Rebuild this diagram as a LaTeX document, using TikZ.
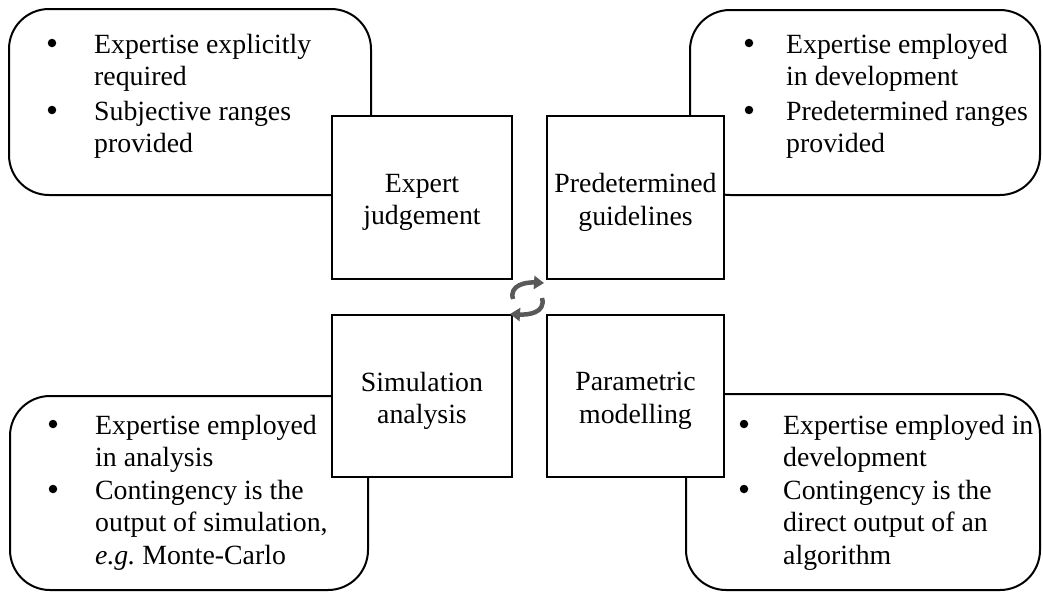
\documentclass[tikz,border=0pt]{standalone}
\usepackage{fontspec}
\setmainfont{Liberation Serif}
\usetikzlibrary{arrows.meta}
\newcommand\diagfont{\fontsize{27.8}{32.6}\selectfont}
\newcommand\itemlines[1]{\begin{tabular}[t]{@{}l@{}}#1\end{tabular}}
\definecolor{cyclegray}{HTML}{595959}
\tikzset{
  roundbox/.style={draw=black, line width=2pt, rounded corners=40pt, fill=white, inner sep=0pt},
  sqbox/.style={draw=black, line width=2pt, fill=white, inner sep=0pt},
  sqlabel/.style={font=\diagfont, align=center, inner sep=0pt, yshift=-5pt},
  itemtext/.style={anchor=base west, inner sep=0pt, font=\diagfont},
  bulletdot/.style={circle, fill=black, draw=none, minimum size=8.5pt, inner sep=0pt},
  cyclearrow/.style={draw=cyclegray, line width=4.5pt, -{Triangle[length=10pt,width=13pt]}}
}
\begin{document}
\begin{tikzpicture}[x=1pt, y=-1pt]
\useasboundingbox (0,0) rectangle (1043,592);

% outer rounded boxes
\node[roundbox, minimum width=362pt, minimum height=186pt] (tlbox) at (190,102) {};
\node[roundbox, minimum width=350pt, minimum height=185pt] (trbox) at (865,102.5) {};
\node[roundbox, minimum width=358pt, minimum height=194pt] (blbox) at (189,493) {};
\node[roundbox, minimum width=354pt, minimum height=196pt] (brbox) at (863,492) {};

% top-left bullets
\node[bulletdot] (tlb1) at (52,43) {};
\node[itemtext] (tlt1) at (94,53) {\itemlines{Expertise explicitly\\required}};
\node[bulletdot] (tlb2) at (52,110) {};
\node[itemtext] (tlt2) at (94,120) {\itemlines{Subjective ranges\\provided}};

% top-right bullets
\node[bulletdot] (trb1) at (749,43) {};
\node[itemtext] (trt1) at (786,53) {\itemlines{Expertise employed\\in development}};
\node[bulletdot] (trb2) at (749,110) {};
\node[itemtext] (trt2) at (786,120) {\itemlines{Predetermined ranges\\provided}};

% bottom-left bullets
\node[bulletdot] (blb1) at (53,424) {};
\node[itemtext] (blt1) at (95,434) {\itemlines{Expertise employed\\in analysis}};
\node[bulletdot] (blb2) at (53,489) {};
\node[itemtext] (blt2) at (95,499) {\itemlines{Contingency is the\\output of simulation,\\\textit{e.g.}\ Monte-Carlo}};

% bottom-right bullets
\node[bulletdot] (brb1) at (744,424) {};
\node[itemtext] (brt1) at (783,434) {\itemlines{Expertise employed in\\development}};
\node[bulletdot] (brb2) at (744,489) {};
\node[itemtext] (brt2) at (783,499) {\itemlines{Contingency is the\\direct output of an\\algorithm}};

% central squares
\node[sqbox, minimum width=180pt, minimum height=163pt,
      label={[sqlabel]center:Expert\\judgement}] (expert) at (422,197.5) {};
\node[sqbox, minimum width=177pt, minimum height=163pt,
      label={[sqlabel]center:Predetermined\\guidelines}] (guide) at (635.5,197.5) {};
\node[sqbox, minimum width=180pt, minimum height=162pt,
      label={[sqlabel]center:Simulation\\analysis}] (sim) at (422,396) {};
\node[sqbox, minimum width=177pt, minimum height=162pt,
      label={[sqlabel]center:Parametric\\modelling}] (param) at (635.5,396) {};

% cycle symbol in the middle
\coordinate (c1s) at (513,299);
\coordinate (c1e) at (544,283);
\coordinate (c2s) at (542,298);
\coordinate (c2e) at (510,314);
\draw[cyclearrow] (c1s) .. controls (509,285) and (526,282) .. (c1e);
\draw[cyclearrow] (c2s) .. controls (546,313) and (528,315) .. (c2e);
\end{tikzpicture}
\end{document}
